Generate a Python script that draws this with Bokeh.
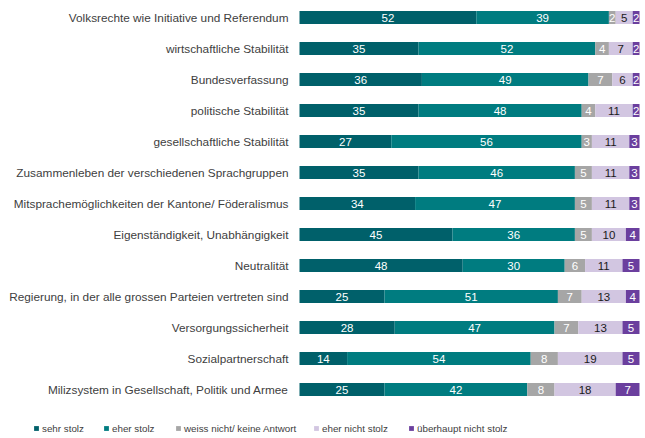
from bokeh.plotting import figure
from bokeh.models import ColumnDataSource, Range1d, Legend, LegendItem
from bokeh.core.properties import value
from bokeh.embed import file_html
from bokeh.resources import INLINE

categories = [
    "Volksrechte wie Initiative und Referendum",
    "wirtschaftliche Stabilität",
    "Bundesverfassung",
    "politische Stabilität",
    "gesellschaftliche Stabilität",
    "Zusammenleben der verschiedenen Sprachgruppen",
    "Mitsprachemöglichkeiten der Kantone/ Föderalismus",
    "Eigenständigkeit, Unabhängigkeit",
    "Neutralität",
    "Regierung, in der alle grossen Parteien vertreten sind",
    "Versorgungssicherheit",
    "Sozialpartnerschaft",
    "Milizsystem in Gesellschaft, Politik und Armee",
]
series_names = ["sehr stolz", "eher stolz", "weiss nicht/ keine Antwort",
                "eher nicht stolz", "überhaupt nicht stolz"]
sehr_stolz = [52, 35, 36, 35, 27, 35, 34, 45, 48, 25, 28, 14, 25]
eher_stolz = [39, 52, 49, 48, 56, 46, 47, 36, 30, 51, 47, 54, 42]
weiss_nicht = [2, 4, 7, 4, 3, 5, 5, 5, 6, 7, 7, 8, 8]
eher_nicht_stolz = [5, 7, 6, 11, 11, 11, 11, 10, 11, 13, 13, 19, 18]
ueberhaupt_nicht = [2, 2, 2, 2, 3, 3, 3, 4, 5, 4, 5, 5, 7]

series = [sehr_stolz, eher_stolz, weiss_nicht, eher_nicht_stolz, ueberhaupt_nicht]
colors = ["#00606a", "#007c80", "#a6a6a6", "#d2c6e1", "#6b3f9e"]
text_colors = ["#ffffff", "#ffffff", "#ffffff", "#1a1a1a", "#ffffff"]
legend_x = [33, 103, 175, 313, 408]   # pixel positions of legend entries

W, H = 640, 436
x0 = 299          # pixel of 0 %
pxu = 3.4         # pixels per percent
ypx = 31          # pixels per category
ytop = 17         # pixel of first category

p = figure(width=W, height=H, output_backend="svg", toolbar_location=None,
           x_range=Range1d(-x0 / pxu, (W - x0) / pxu),
           y_range=Range1d((H - ytop) / ypx, -ytop / ypx),
           min_border=0, min_border_left=0, min_border_right=0,
           min_border_top=0, min_border_bottom=0)
p.axis.visible = False
p.grid.visible = False
p.outline_line_color = None
p.background_fill_color = "white"
p.border_fill_color = "white"

ys = list(range(len(categories)))
renderers = []
left = [0] * len(categories)
for name, vals, col, tcol in zip(series_names, series, colors, text_colors):
    right = [l + v for l, v in zip(left, vals)]
    mid = [(l + r) / 2 for l, r in zip(left, right)]
    src = ColumnDataSource(dict(y=ys, left=left, right=right, mid=mid,
                                lab=[str(v) for v in vals]))
    r = p.hbar(y="y", left="left", right="right", height=13 / ypx, source=src,
               fill_color=col, line_color=None)
    renderers.append(r)
    p.text(x="mid", y="y", text="lab", source=src, text_align="center",
           text_baseline="middle", text_color=tcol, text_font=value("Liberation Sans"),
           text_font_size="11.5px")
    left = right

lsrc = ColumnDataSource(dict(y=ys, x=[-11 / pxu] * len(ys), t=categories))
p.text(x="x", y="y", text="t", source=lsrc, text_align="right",
       text_baseline="middle", text_color="#404040",
       text_font=value("Liberation Sans"), text_font_size="11.8px")

for name, r, lx in zip(series_names, renderers, legend_x):
    legend = Legend(items=[LegendItem(label=name, renderers=[r])],
                    orientation="horizontal", location=(lx, 2), padding=0, margin=0,
                    spacing=0, glyph_width=6, glyph_height=6, label_standoff=3,
                    label_height=12, label_text_font="Liberation Sans",
                    label_text_font_size="9.8px", label_text_color="#404040",
                    background_fill_alpha=0, border_line_color=None)
    p.add_layout(legend, "center")

open("out.html", "w").write(file_html(p, INLINE))
